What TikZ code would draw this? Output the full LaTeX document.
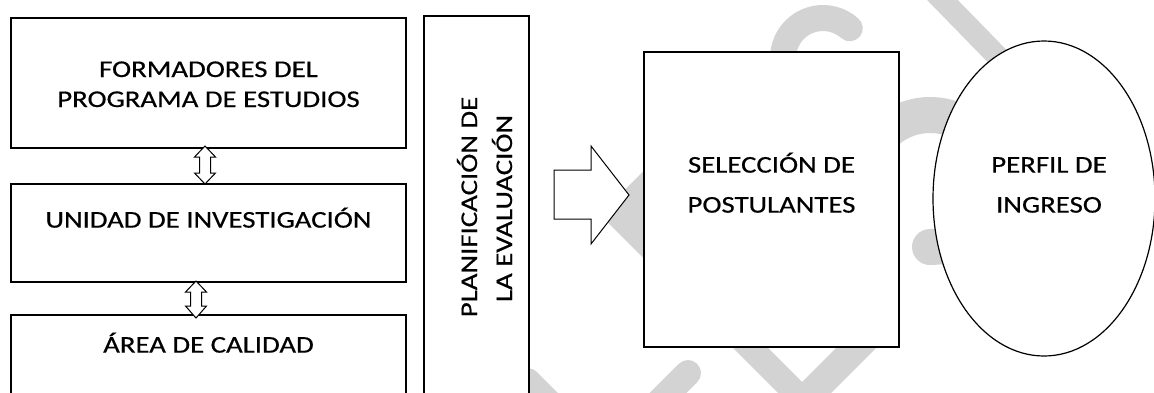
\documentclass[tikz,border=0pt]{standalone}
\usepackage{fontspec}
\setmainfont{Carlito}[FakeStretch=1.2,FakeBold=0.5]
\usetikzlibrary{calc,shapes.geometric}
\definecolor{wm}{RGB}{211,211,211}
\begin{document}
\begin{tikzpicture}[x=0.5pt,y=-0.5pt,
  box/.style={draw=black, line width=0.6pt, fill=white, inner sep=0pt, rectangle},
  oval/.style={draw=black, line width=0.6pt, fill=white, inner sep=0pt, ellipse},
  txt/.style={inner sep=0pt, font=\fontsize{12}{14}\selectfont, text=black},
  hollow/.style={draw=black, line width=0.5pt, fill=white, line join=miter},
  band/.style={draw=wm}]
\useasboundingbox (0,0) rectangle (1154,392);
\clip (0,0) rectangle (1154,392);
% watermark
\draw[band, line width=13pt, line cap=round] ($(823,58)+(170:40)$) arc[start angle=170,end angle=312,radius=40];
\draw[band, line width=11pt] (918,-25) -- (1040,100);
\draw[band, line width=18pt, line cap=round] ($(930,181)+(90:66)$) arc[start angle=90,end angle=-170,radius=66];
\fill[wm] (600,214.5) -- (700,114.5) -- (740,154.5) -- (700,280) -- (830,410) -- (795,410) -- cycle;
\fill[wm] (855,329) -- (895,329) -- (804,420) -- (764,420) -- cycle;
\draw[band, line width=13pt, line cap=round] (688,373) -- (640,421);
\draw[band, line width=14pt, line cap=round] (527,382) -- (580,435);
% boxes
\node[box, minimum width=197.5pt, minimum height=65pt] (b1) at (208.5,83) {};
\node[box, minimum width=197.5pt, minimum height=49pt] (b2) at (208.5,233) {};
\node[box, minimum width=197.5pt, minimum height=57.5pt] (b3) at (208.5,372.5) {};
\node[box, minimum width=52.5pt, minimum height=207pt] (pl) at (476.5,223) {};
\node[box, minimum width=127.5pt, minimum height=147.5pt] (sel) at (771.5,199.5) {};
\node[oval, minimum width=111pt, minimum height=157.5pt] (per) at (1044,198.5) {};
% double arrows
\draw[hollow] (205,146) -- (215.5,157) -- (210.5,157) -- (210.5,173) -- (215.5,173) -- (205,184)
  -- (194.5,173) -- (199.5,173) -- (199.5,157) -- (194.5,157) -- cycle;
\draw[hollow] (196,281) -- (206.5,292) -- (201.5,292) -- (201.5,306) -- (206.5,306) -- (196,318)
  -- (185.5,306) -- (190.5,306) -- (190.5,292) -- (185.5,292) -- cycle;
% block arrow
\draw[hollow] (554,170) -- (591,170) -- (591,146) -- (629,195) -- (591,244) -- (591,219) -- (554,219) -- cycle;
% texts
\node[txt, anchor=base] (t1a) at (208.5,77) {FORMADORES DEL};
\node[txt, anchor=base] (t1b) at (208.5,107) {PROGRAMA DE ESTUDIOS};
\node[txt, anchor=base] (t2) at (208.5,227.6) {UNIDAD DE INVESTIGACIÓN};
\node[txt, anchor=base] (t3) at (208.5,352.6) {ÁREA DE CALIDAD};
\node[txt, anchor=base, rotate=90] (tpa) at (477,207) {PLANIFICACIÓN DE};
\node[txt, anchor=base, rotate=90] (tpb) at (512,208.5) {LA EVALUACIÓN};
\node[txt, anchor=base] (tsa) at (771.5,172.6) {SELECCIÓN DE};
\node[txt, anchor=base] (tsb) at (771.5,212.6) {POSTULANTES};
\node[txt, anchor=base] (tea) at (1049,172.6) {PERFIL DE};
\node[txt, anchor=base] (teb) at (1049,212.6) {INGRESO};
\end{tikzpicture}
\end{document}
